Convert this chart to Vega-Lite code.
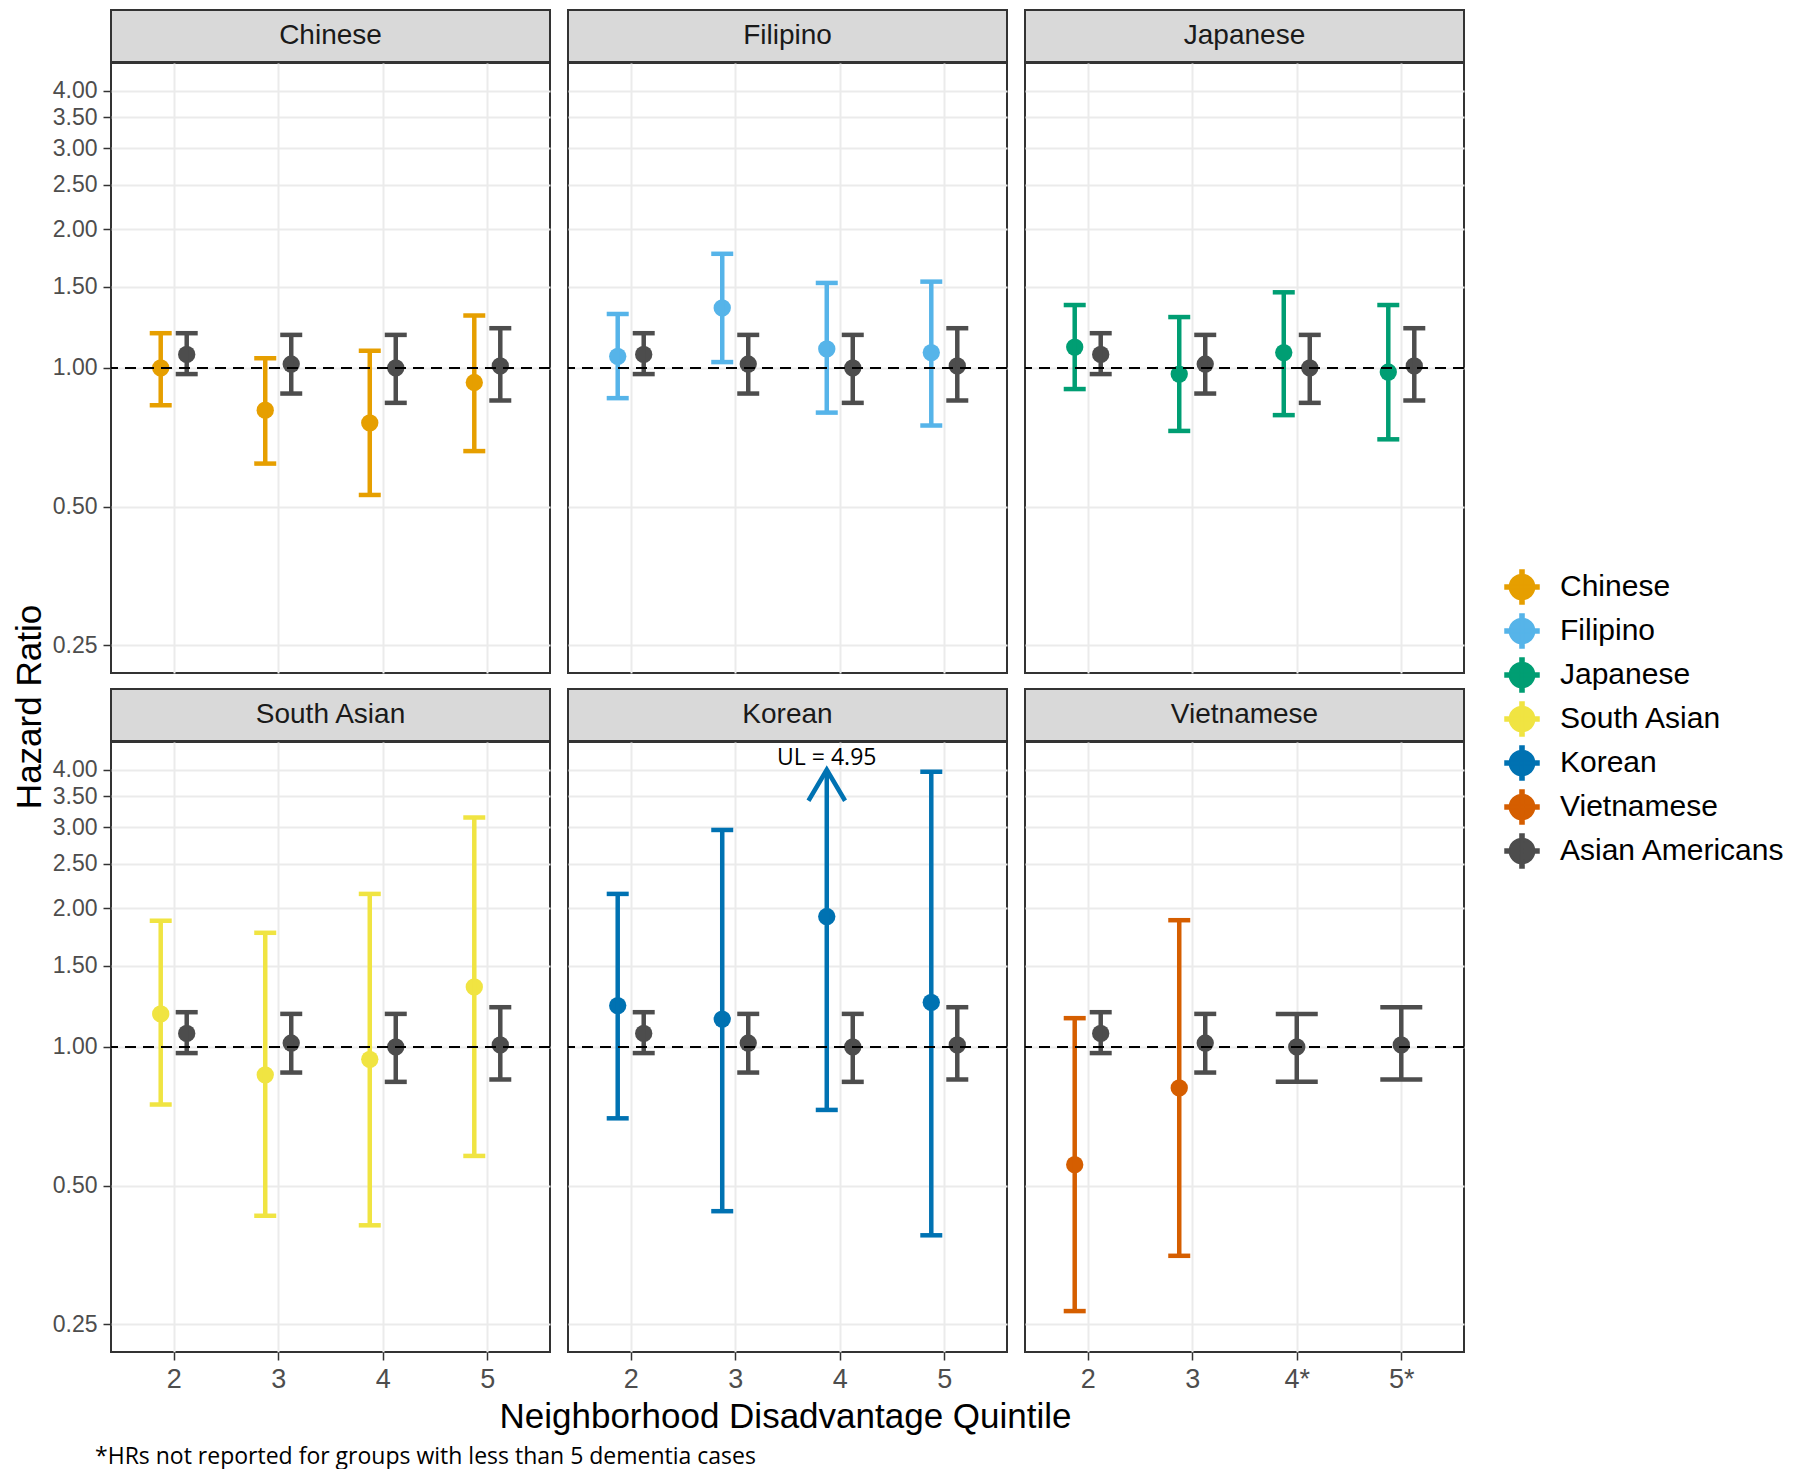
{
"$schema":"https://vega.github.io/schema/vega-lite/v6.json",
"padding":{"left":12,"top":9,"right":0,"bottom":0},
"background":"#FFFFFF",
"title":{"text":"*HRs not reported for groups with less than 5 dementia cases","orient":"bottom","anchor":"start","frame":"bounds","font":"Open Sans","fontSize":23,"fontWeight":"normal","color":"#000000","offset":0,"dx":82},
"datasets":{"hr":[
{"group":"Chinese","q":2,"hr":1.00,"lo":0.83,"hi":1.19},
{"group":"Chinese","q":3,"hr":0.81,"lo":0.62,"hi":1.05},
{"group":"Chinese","q":4,"hr":0.76,"lo":0.53,"hi":1.09},
{"group":"Chinese","q":5,"hr":0.93,"lo":0.66,"hi":1.30},
{"group":"Filipino","q":2,"hr":1.06,"lo":0.86,"hi":1.31},
{"group":"Filipino","q":3,"hr":1.35,"lo":1.03,"hi":1.77},
{"group":"Filipino","q":4,"hr":1.10,"lo":0.80,"hi":1.53},
{"group":"Filipino","q":5,"hr":1.08,"lo":0.75,"hi":1.54},
{"group":"Japanese","q":2,"hr":1.11,"lo":0.90,"hi":1.37},
{"group":"Japanese","q":3,"hr":0.97,"lo":0.73,"hi":1.29},
{"group":"Japanese","q":4,"hr":1.08,"lo":0.79,"hi":1.46},
{"group":"Japanese","q":5,"hr":0.98,"lo":0.70,"hi":1.37},
{"group":"South Asian","q":2,"hr":1.18,"lo":0.75,"hi":1.88},
{"group":"South Asian","q":3,"hr":0.87,"lo":0.43,"hi":1.77},
{"group":"South Asian","q":4,"hr":0.94,"lo":0.41,"hi":2.15},
{"group":"South Asian","q":5,"hr":1.35,"lo":0.58,"hi":3.15},
{"group":"Korean","q":2,"hr":1.23,"lo":0.70,"hi":2.15},
{"group":"Korean","q":3,"hr":1.15,"lo":0.44,"hi":2.96},
{"group":"Korean","q":4,"hr":1.92,"lo":0.73,"hi":4.95,"note":"UL = 4.95"},
{"group":"Korean","q":5,"hr":1.25,"lo":0.39,"hi":3.96},
{"group":"Vietnamese","q":2,"hr":0.555,"lo":0.267,"hi":1.155},
{"group":"Vietnamese","q":3,"hr":0.815,"lo":0.352,"hi":1.885},
{"group":"Asian Americans","q":2,"hr":1.07,"lo":0.97,"hi":1.19},
{"group":"Asian Americans","q":3,"hr":1.02,"lo":0.88,"hi":1.18},
{"group":"Asian Americans","q":4,"hr":1.00,"lo":0.84,"hi":1.18},
{"group":"Asian Americans","q":5,"hr":1.01,"lo":0.85,"hi":1.22}
]},
"hconcat":[
{"width":1,"height":1394,"view":{"stroke":null,"fill":null},"title":{"text":"Hazard Ratio","orient":"left","anchor":"middle","frame":"group","font":"Liberation Sans","fontSize":35,"fontWeight":"normal","color":"#000000","offset":2},"data":{"values":[{}]},"mark":{"type":"text","text":""}},
{"vconcat":[
{"hconcat":[
 {"vconcat":[
  {"width":439,"height":52,"view":{"fill":"#D9D9D9","stroke":"#333333","strokeWidth":2},"data":{"values":[{"panel":"Chinese"}]},"mark":{"type":"text","font":"Liberation Sans","fontSize":28,"color":"#1A1A1A","baseline":"middle","align":"center"},"encoding":{"text":{"field":"panel"}}},
  {"width":439,"height":610,"data":{"name":"hr"},"layer":[
   {"transform":[{"filter":"datum.group == 'Chinese'"}],
    "encoding":{
     "x":{"field":"q","type":"quantitative","title":null,"scale":{"domain":[1.4,5.6],"nice":false,"zero":false},"axis":{"values":[2,3,4,5],"labels":false,"ticks":false,"grid":true}},
     "y":{"field":"hr","type":"quantitative","title":null,"scale":{"type":"log","domain":[0.2176,4.595],"nice":false},"axis":{"values":[0.25,0.5,1,1.5,2,2.5,3,3.5,4],"format":".2f","grid":true}},
     "color":{"field":"group","type":"nominal","scale":{"domain":["Chinese","Filipino","Japanese","South Asian","Korean","Vietnamese","Asian Americans"],"range":["#E69F00","#56B4E9","#009E73","#F0E442","#0072B2","#D55E00","#4D4D4D"]},"legend":{"title":null,"orient":"none","legendX":1454,"legendY":559,"direction":"vertical"}}},
    "layer":[
     {"mark":{"type":"point","filled":true,"size":300,"opacity":1,"xOffset":-13}},
     {"mark":{"type":"rule","strokeWidth":4.5,"opacity":1,"xOffset":-13},"encoding":{"y":{"field":"lo","type":"quantitative","title":null,"scale":{"type":"log","domain":[0.2176,4.595],"nice":false}},"y2":{"field":"hi"}}},
     {"mark":{"type":"tick","orient":"horizontal","size":22,"thickness":4.5,"opacity":1,"xOffset":-13},"encoding":{"y":{"field":"lo","type":"quantitative","title":null,"scale":{"type":"log","domain":[0.2176,4.595],"nice":false}}}},
     {"mark":{"type":"tick","orient":"horizontal","size":22,"thickness":4.5,"opacity":1,"xOffset":-13},"encoding":{"y":{"field":"hi","type":"quantitative","title":null,"scale":{"type":"log","domain":[0.2176,4.595],"nice":false}}}}
    ]},
   {"transform":[{"filter":"datum.group == 'Asian Americans'"}],
    "encoding":{
     "x":{"field":"q","type":"quantitative","title":null,"scale":{"domain":[1.4,5.6],"nice":false,"zero":false},"axis":{"values":[2,3,4,5],"labels":false,"ticks":false,"grid":true}},
     "y":{"field":"hr","type":"quantitative","title":null,"scale":{"type":"log","domain":[0.2176,4.595],"nice":false},"axis":{"values":[0.25,0.5,1,1.5,2,2.5,3,3.5,4],"format":".2f","grid":true}},
     "color":{"field":"group","type":"nominal","scale":{"domain":["Chinese","Filipino","Japanese","South Asian","Korean","Vietnamese","Asian Americans"],"range":["#E69F00","#56B4E9","#009E73","#F0E442","#0072B2","#D55E00","#4D4D4D"]},"legend":{"title":null,"orient":"none","legendX":1454,"legendY":559,"direction":"vertical"}}},
    "layer":[
     {"mark":{"type":"point","filled":true,"size":300,"opacity":1,"xOffset":13}},
     {"mark":{"type":"rule","strokeWidth":4.5,"opacity":1,"xOffset":13},"encoding":{"y":{"field":"lo","type":"quantitative","title":null,"scale":{"type":"log","domain":[0.2176,4.595],"nice":false}},"y2":{"field":"hi"}}},
     {"mark":{"type":"tick","orient":"horizontal","size":22,"thickness":4.5,"opacity":1,"xOffset":13},"encoding":{"y":{"field":"lo","type":"quantitative","title":null,"scale":{"type":"log","domain":[0.2176,4.595],"nice":false}}}},
     {"mark":{"type":"tick","orient":"horizontal","size":22,"thickness":4.5,"opacity":1,"xOffset":13},"encoding":{"y":{"field":"hi","type":"quantitative","title":null,"scale":{"type":"log","domain":[0.2176,4.595],"nice":false}}}}
    ]},
   {"mark":{"type":"rule","strokeDash":[11,7],"strokeWidth":1.8,"color":"#000000"},"encoding":{"y":{"datum":1,"type":"quantitative","scale":{"type":"log","domain":[0.2176,4.595],"nice":false}}}}
  ]}
 ],"spacing":-2},
 {"vconcat":[
  {"width":439,"height":52,"view":{"fill":"#D9D9D9","stroke":"#333333","strokeWidth":2},"data":{"values":[{"panel":"Filipino"}]},"mark":{"type":"text","font":"Liberation Sans","fontSize":28,"color":"#1A1A1A","baseline":"middle","align":"center"},"encoding":{"text":{"field":"panel"}}},
  {"width":439,"height":610,"data":{"name":"hr"},"layer":[
   {"transform":[{"filter":"datum.group == 'Filipino'"}],
    "encoding":{
     "x":{"field":"q","type":"quantitative","title":null,"scale":{"domain":[1.4,5.6],"nice":false,"zero":false},"axis":{"values":[2,3,4,5],"labels":false,"ticks":false,"grid":true}},
     "y":{"field":"hr","type":"quantitative","title":null,"scale":{"type":"log","domain":[0.2176,4.595],"nice":false},"axis":{"values":[0.25,0.5,1,1.5,2,2.5,3,3.5,4],"labels":false,"ticks":false,"grid":true}},
     "color":{"field":"group","type":"nominal","scale":{"domain":["Chinese","Filipino","Japanese","South Asian","Korean","Vietnamese","Asian Americans"],"range":["#E69F00","#56B4E9","#009E73","#F0E442","#0072B2","#D55E00","#4D4D4D"]},"legend":{"title":null,"orient":"none","legendX":1454,"legendY":559,"direction":"vertical"}}},
    "layer":[
     {"mark":{"type":"point","filled":true,"size":300,"opacity":1,"xOffset":-13}},
     {"mark":{"type":"rule","strokeWidth":4.5,"opacity":1,"xOffset":-13},"encoding":{"y":{"field":"lo","type":"quantitative","title":null,"scale":{"type":"log","domain":[0.2176,4.595],"nice":false}},"y2":{"field":"hi"}}},
     {"mark":{"type":"tick","orient":"horizontal","size":22,"thickness":4.5,"opacity":1,"xOffset":-13},"encoding":{"y":{"field":"lo","type":"quantitative","title":null,"scale":{"type":"log","domain":[0.2176,4.595],"nice":false}}}},
     {"mark":{"type":"tick","orient":"horizontal","size":22,"thickness":4.5,"opacity":1,"xOffset":-13},"encoding":{"y":{"field":"hi","type":"quantitative","title":null,"scale":{"type":"log","domain":[0.2176,4.595],"nice":false}}}}
    ]},
   {"transform":[{"filter":"datum.group == 'Asian Americans'"}],
    "encoding":{
     "x":{"field":"q","type":"quantitative","title":null,"scale":{"domain":[1.4,5.6],"nice":false,"zero":false},"axis":{"values":[2,3,4,5],"labels":false,"ticks":false,"grid":true}},
     "y":{"field":"hr","type":"quantitative","title":null,"scale":{"type":"log","domain":[0.2176,4.595],"nice":false},"axis":{"values":[0.25,0.5,1,1.5,2,2.5,3,3.5,4],"labels":false,"ticks":false,"grid":true}},
     "color":{"field":"group","type":"nominal","scale":{"domain":["Chinese","Filipino","Japanese","South Asian","Korean","Vietnamese","Asian Americans"],"range":["#E69F00","#56B4E9","#009E73","#F0E442","#0072B2","#D55E00","#4D4D4D"]},"legend":{"title":null,"orient":"none","legendX":1454,"legendY":559,"direction":"vertical"}}},
    "layer":[
     {"mark":{"type":"point","filled":true,"size":300,"opacity":1,"xOffset":13}},
     {"mark":{"type":"rule","strokeWidth":4.5,"opacity":1,"xOffset":13},"encoding":{"y":{"field":"lo","type":"quantitative","title":null,"scale":{"type":"log","domain":[0.2176,4.595],"nice":false}},"y2":{"field":"hi"}}},
     {"mark":{"type":"tick","orient":"horizontal","size":22,"thickness":4.5,"opacity":1,"xOffset":13},"encoding":{"y":{"field":"lo","type":"quantitative","title":null,"scale":{"type":"log","domain":[0.2176,4.595],"nice":false}}}},
     {"mark":{"type":"tick","orient":"horizontal","size":22,"thickness":4.5,"opacity":1,"xOffset":13},"encoding":{"y":{"field":"hi","type":"quantitative","title":null,"scale":{"type":"log","domain":[0.2176,4.595],"nice":false}}}}
    ]},
   {"mark":{"type":"rule","strokeDash":[11,7],"strokeWidth":1.8,"color":"#000000"},"encoding":{"y":{"datum":1,"type":"quantitative","scale":{"type":"log","domain":[0.2176,4.595],"nice":false}}}}
  ]}
 ],"spacing":-2},
 {"vconcat":[
  {"width":439,"height":52,"view":{"fill":"#D9D9D9","stroke":"#333333","strokeWidth":2},"data":{"values":[{"panel":"Japanese"}]},"mark":{"type":"text","font":"Liberation Sans","fontSize":28,"color":"#1A1A1A","baseline":"middle","align":"center"},"encoding":{"text":{"field":"panel"}}},
  {"width":439,"height":610,"data":{"name":"hr"},"layer":[
   {"transform":[{"filter":"datum.group == 'Japanese'"}],
    "encoding":{
     "x":{"field":"q","type":"quantitative","title":null,"scale":{"domain":[1.4,5.6],"nice":false,"zero":false},"axis":{"values":[2,3,4,5],"labels":false,"ticks":false,"grid":true}},
     "y":{"field":"hr","type":"quantitative","title":null,"scale":{"type":"log","domain":[0.2176,4.595],"nice":false},"axis":{"values":[0.25,0.5,1,1.5,2,2.5,3,3.5,4],"labels":false,"ticks":false,"grid":true}},
     "color":{"field":"group","type":"nominal","scale":{"domain":["Chinese","Filipino","Japanese","South Asian","Korean","Vietnamese","Asian Americans"],"range":["#E69F00","#56B4E9","#009E73","#F0E442","#0072B2","#D55E00","#4D4D4D"]},"legend":{"title":null,"orient":"none","legendX":1454,"legendY":559,"direction":"vertical"}}},
    "layer":[
     {"mark":{"type":"point","filled":true,"size":300,"opacity":1,"xOffset":-13}},
     {"mark":{"type":"rule","strokeWidth":4.5,"opacity":1,"xOffset":-13},"encoding":{"y":{"field":"lo","type":"quantitative","title":null,"scale":{"type":"log","domain":[0.2176,4.595],"nice":false}},"y2":{"field":"hi"}}},
     {"mark":{"type":"tick","orient":"horizontal","size":22,"thickness":4.5,"opacity":1,"xOffset":-13},"encoding":{"y":{"field":"lo","type":"quantitative","title":null,"scale":{"type":"log","domain":[0.2176,4.595],"nice":false}}}},
     {"mark":{"type":"tick","orient":"horizontal","size":22,"thickness":4.5,"opacity":1,"xOffset":-13},"encoding":{"y":{"field":"hi","type":"quantitative","title":null,"scale":{"type":"log","domain":[0.2176,4.595],"nice":false}}}}
    ]},
   {"transform":[{"filter":"datum.group == 'Asian Americans'"}],
    "encoding":{
     "x":{"field":"q","type":"quantitative","title":null,"scale":{"domain":[1.4,5.6],"nice":false,"zero":false},"axis":{"values":[2,3,4,5],"labels":false,"ticks":false,"grid":true}},
     "y":{"field":"hr","type":"quantitative","title":null,"scale":{"type":"log","domain":[0.2176,4.595],"nice":false},"axis":{"values":[0.25,0.5,1,1.5,2,2.5,3,3.5,4],"labels":false,"ticks":false,"grid":true}},
     "color":{"field":"group","type":"nominal","scale":{"domain":["Chinese","Filipino","Japanese","South Asian","Korean","Vietnamese","Asian Americans"],"range":["#E69F00","#56B4E9","#009E73","#F0E442","#0072B2","#D55E00","#4D4D4D"]},"legend":{"title":null,"orient":"none","legendX":1454,"legendY":559,"direction":"vertical"}}},
    "layer":[
     {"mark":{"type":"point","filled":true,"size":300,"opacity":1,"xOffset":13}},
     {"mark":{"type":"rule","strokeWidth":4.5,"opacity":1,"xOffset":13},"encoding":{"y":{"field":"lo","type":"quantitative","title":null,"scale":{"type":"log","domain":[0.2176,4.595],"nice":false}},"y2":{"field":"hi"}}},
     {"mark":{"type":"tick","orient":"horizontal","size":22,"thickness":4.5,"opacity":1,"xOffset":13},"encoding":{"y":{"field":"lo","type":"quantitative","title":null,"scale":{"type":"log","domain":[0.2176,4.595],"nice":false}}}},
     {"mark":{"type":"tick","orient":"horizontal","size":22,"thickness":4.5,"opacity":1,"xOffset":13},"encoding":{"y":{"field":"hi","type":"quantitative","title":null,"scale":{"type":"log","domain":[0.2176,4.595],"nice":false}}}}
    ]},
   {"mark":{"type":"rule","strokeDash":[11,7],"strokeWidth":1.8,"color":"#000000"},"encoding":{"y":{"datum":1,"type":"quantitative","scale":{"type":"log","domain":[0.2176,4.595],"nice":false}}}}
  ]}
 ],"spacing":-2}
],"spacing":14},
{"vconcat":[
{"hconcat":[
 {"vconcat":[
  {"width":439,"height":52,"view":{"fill":"#D9D9D9","stroke":"#333333","strokeWidth":2},"data":{"values":[{"panel":"South Asian"}]},"mark":{"type":"text","font":"Liberation Sans","fontSize":28,"color":"#1A1A1A","baseline":"middle","align":"center"},"encoding":{"text":{"field":"panel"}}},
  {"width":439,"height":610,"data":{"name":"hr"},"layer":[
   {"transform":[{"filter":"datum.group == 'South Asian'"}],
    "encoding":{
     "x":{"field":"q","type":"quantitative","title":null,"scale":{"domain":[1.4,5.6],"nice":false,"zero":false},"axis":{"values":[2,3,4,5],"format":"d","grid":true}},
     "y":{"field":"hr","type":"quantitative","title":null,"scale":{"type":"log","domain":[0.2176,4.595],"nice":false},"axis":{"values":[0.25,0.5,1,1.5,2,2.5,3,3.5,4],"format":".2f","grid":true}},
     "color":{"field":"group","type":"nominal","scale":{"domain":["Chinese","Filipino","Japanese","South Asian","Korean","Vietnamese","Asian Americans"],"range":["#E69F00","#56B4E9","#009E73","#F0E442","#0072B2","#D55E00","#4D4D4D"]},"legend":{"title":null,"orient":"none","legendX":1454,"legendY":559,"direction":"vertical"}}},
    "layer":[
     {"mark":{"type":"point","filled":true,"size":300,"opacity":1,"xOffset":-13}},
     {"mark":{"type":"rule","strokeWidth":4.5,"opacity":1,"xOffset":-13},"encoding":{"y":{"field":"lo","type":"quantitative","title":null,"scale":{"type":"log","domain":[0.2176,4.595],"nice":false}},"y2":{"field":"hi"}}},
     {"mark":{"type":"tick","orient":"horizontal","size":22,"thickness":4.5,"opacity":1,"xOffset":-13},"encoding":{"y":{"field":"lo","type":"quantitative","title":null,"scale":{"type":"log","domain":[0.2176,4.595],"nice":false}}}},
     {"mark":{"type":"tick","orient":"horizontal","size":22,"thickness":4.5,"opacity":1,"xOffset":-13},"encoding":{"y":{"field":"hi","type":"quantitative","title":null,"scale":{"type":"log","domain":[0.2176,4.595],"nice":false}}}}
    ]},
   {"transform":[{"filter":"datum.group == 'Asian Americans'"}],
    "encoding":{
     "x":{"field":"q","type":"quantitative","title":null,"scale":{"domain":[1.4,5.6],"nice":false,"zero":false},"axis":{"values":[2,3,4,5],"format":"d","grid":true}},
     "y":{"field":"hr","type":"quantitative","title":null,"scale":{"type":"log","domain":[0.2176,4.595],"nice":false},"axis":{"values":[0.25,0.5,1,1.5,2,2.5,3,3.5,4],"format":".2f","grid":true}},
     "color":{"field":"group","type":"nominal","scale":{"domain":["Chinese","Filipino","Japanese","South Asian","Korean","Vietnamese","Asian Americans"],"range":["#E69F00","#56B4E9","#009E73","#F0E442","#0072B2","#D55E00","#4D4D4D"]},"legend":{"title":null,"orient":"none","legendX":1454,"legendY":559,"direction":"vertical"}}},
    "layer":[
     {"mark":{"type":"point","filled":true,"size":300,"opacity":1,"xOffset":13}},
     {"mark":{"type":"rule","strokeWidth":4.5,"opacity":1,"xOffset":13},"encoding":{"y":{"field":"lo","type":"quantitative","title":null,"scale":{"type":"log","domain":[0.2176,4.595],"nice":false}},"y2":{"field":"hi"}}},
     {"mark":{"type":"tick","orient":"horizontal","size":22,"thickness":4.5,"opacity":1,"xOffset":13},"encoding":{"y":{"field":"lo","type":"quantitative","title":null,"scale":{"type":"log","domain":[0.2176,4.595],"nice":false}}}},
     {"mark":{"type":"tick","orient":"horizontal","size":22,"thickness":4.5,"opacity":1,"xOffset":13},"encoding":{"y":{"field":"hi","type":"quantitative","title":null,"scale":{"type":"log","domain":[0.2176,4.595],"nice":false}}}}
    ]},
   {"mark":{"type":"rule","strokeDash":[11,7],"strokeWidth":1.8,"color":"#000000"},"encoding":{"y":{"datum":1,"type":"quantitative","scale":{"type":"log","domain":[0.2176,4.595],"nice":false}}}}
  ]}
 ],"spacing":-2},
 {"vconcat":[
  {"width":439,"height":52,"view":{"fill":"#D9D9D9","stroke":"#333333","strokeWidth":2},"data":{"values":[{"panel":"Korean"}]},"mark":{"type":"text","font":"Liberation Sans","fontSize":28,"color":"#1A1A1A","baseline":"middle","align":"center"},"encoding":{"text":{"field":"panel"}}},
  {"width":439,"height":610,"data":{"name":"hr"},"layer":[
   {"transform":[{"filter":"datum.group == 'Korean'"}],
    "encoding":{
     "x":{"field":"q","type":"quantitative","title":null,"scale":{"domain":[1.4,5.6],"nice":false,"zero":false},"axis":{"values":[2,3,4,5],"format":"d","grid":true}},
     "y":{"field":"hr","type":"quantitative","title":null,"scale":{"type":"log","domain":[0.2176,4.595],"nice":false},"axis":{"values":[0.25,0.5,1,1.5,2,2.5,3,3.5,4],"labels":false,"ticks":false,"grid":true}},
     "color":{"field":"group","type":"nominal","scale":{"domain":["Chinese","Filipino","Japanese","South Asian","Korean","Vietnamese","Asian Americans"],"range":["#E69F00","#56B4E9","#009E73","#F0E442","#0072B2","#D55E00","#4D4D4D"]},"legend":{"title":null,"orient":"none","legendX":1454,"legendY":559,"direction":"vertical"}}},
    "layer":[
     {"mark":{"type":"point","filled":true,"size":300,"opacity":1,"xOffset":-13}},
     {"transform":[{"filter":"datum.hi < 4.6"}],"mark":{"type":"rule","strokeWidth":4.5,"opacity":1,"xOffset":-13},"encoding":{"y":{"field":"lo","type":"quantitative","title":null,"scale":{"type":"log","domain":[0.2176,4.595],"nice":false}},"y2":{"field":"hi"}}},
     {"mark":{"type":"tick","orient":"horizontal","size":22,"thickness":4.5,"opacity":1,"xOffset":-13},"encoding":{"y":{"field":"lo","type":"quantitative","title":null,"scale":{"type":"log","domain":[0.2176,4.595],"nice":false}}}},
     {"transform":[{"filter":"datum.hi < 4.6"}],"mark":{"type":"tick","orient":"horizontal","size":22,"thickness":4.5,"opacity":1,"xOffset":-13},"encoding":{"y":{"field":"hi","type":"quantitative","title":null,"scale":{"type":"log","domain":[0.2176,4.595],"nice":false}}}},
     {"transform":[{"filter":"datum.hi >= 4.6"}],"mark":{"type":"rule","strokeWidth":4.5,"opacity":1,"xOffset":-13},"encoding":{"y":{"field":"lo","type":"quantitative","title":null,"scale":{"type":"log","domain":[0.2176,4.595],"nice":false}},"y2":{"datum":4},"color":{"value":"#0072B2"}}},
     {"transform":[{"filter":"datum.hi >= 4.6"}],"mark":{"type":"point","shape":"M-0.59,1L0,0L0.59,1","size":3844,"filled":false,"strokeWidth":4.5,"opacity":1,"xOffset":-13},"encoding":{"y":{"datum":4,"type":"quantitative","scale":{"type":"log","domain":[0.2176,4.595],"nice":false}},"color":{"value":"#0072B2"}}},
     {"transform":[{"filter":"datum.hi >= 4.6"}],"mark":{"type":"text","font":"Open Sans","fontSize":23,"baseline":"alphabetic","align":"center","dy":-5,"xOffset":-13},"encoding":{"y":{"datum":4,"type":"quantitative","scale":{"type":"log","domain":[0.2176,4.595],"nice":false}},"text":{"field":"note"},"color":{"value":"#000000"}}}
    ]},
   {"transform":[{"filter":"datum.group == 'Asian Americans'"}],
    "encoding":{
     "x":{"field":"q","type":"quantitative","title":null,"scale":{"domain":[1.4,5.6],"nice":false,"zero":false},"axis":{"values":[2,3,4,5],"format":"d","grid":true}},
     "y":{"field":"hr","type":"quantitative","title":null,"scale":{"type":"log","domain":[0.2176,4.595],"nice":false},"axis":{"values":[0.25,0.5,1,1.5,2,2.5,3,3.5,4],"labels":false,"ticks":false,"grid":true}},
     "color":{"field":"group","type":"nominal","scale":{"domain":["Chinese","Filipino","Japanese","South Asian","Korean","Vietnamese","Asian Americans"],"range":["#E69F00","#56B4E9","#009E73","#F0E442","#0072B2","#D55E00","#4D4D4D"]},"legend":{"title":null,"orient":"none","legendX":1454,"legendY":559,"direction":"vertical"}}},
    "layer":[
     {"mark":{"type":"point","filled":true,"size":300,"opacity":1,"xOffset":13}},
     {"mark":{"type":"rule","strokeWidth":4.5,"opacity":1,"xOffset":13},"encoding":{"y":{"field":"lo","type":"quantitative","title":null,"scale":{"type":"log","domain":[0.2176,4.595],"nice":false}},"y2":{"field":"hi"}}},
     {"mark":{"type":"tick","orient":"horizontal","size":22,"thickness":4.5,"opacity":1,"xOffset":13},"encoding":{"y":{"field":"lo","type":"quantitative","title":null,"scale":{"type":"log","domain":[0.2176,4.595],"nice":false}}}},
     {"mark":{"type":"tick","orient":"horizontal","size":22,"thickness":4.5,"opacity":1,"xOffset":13},"encoding":{"y":{"field":"hi","type":"quantitative","title":null,"scale":{"type":"log","domain":[0.2176,4.595],"nice":false}}}}
    ]},
   {"mark":{"type":"rule","strokeDash":[11,7],"strokeWidth":1.8,"color":"#000000"},"encoding":{"y":{"datum":1,"type":"quantitative","scale":{"type":"log","domain":[0.2176,4.595],"nice":false}}}}
  ]}
 ],"spacing":-2},
 {"vconcat":[
  {"width":439,"height":52,"view":{"fill":"#D9D9D9","stroke":"#333333","strokeWidth":2},"data":{"values":[{"panel":"Vietnamese"}]},"mark":{"type":"text","font":"Liberation Sans","fontSize":28,"color":"#1A1A1A","baseline":"middle","align":"center"},"encoding":{"text":{"field":"panel"}}},
  {"width":439,"height":610,"data":{"name":"hr"},"layer":[
   {"transform":[{"filter":"datum.group == 'Vietnamese'"}],
    "encoding":{
     "x":{"field":"q","type":"quantitative","title":null,"scale":{"domain":[1.4,5.6],"nice":false,"zero":false},"axis":{"values":[2,3,4,5],"format":"d","grid":true,"labelExpr":"datum.value >= 4 ? datum.label + '*' : datum.label"}},
     "y":{"field":"hr","type":"quantitative","title":null,"scale":{"type":"log","domain":[0.2176,4.595],"nice":false},"axis":{"values":[0.25,0.5,1,1.5,2,2.5,3,3.5,4],"labels":false,"ticks":false,"grid":true}},
     "color":{"field":"group","type":"nominal","scale":{"domain":["Chinese","Filipino","Japanese","South Asian","Korean","Vietnamese","Asian Americans"],"range":["#E69F00","#56B4E9","#009E73","#F0E442","#0072B2","#D55E00","#4D4D4D"]},"legend":{"title":null,"orient":"none","legendX":1454,"legendY":559,"direction":"vertical"}}},
    "layer":[
     {"mark":{"type":"point","filled":true,"size":300,"opacity":1,"xOffset":-13}},
     {"mark":{"type":"rule","strokeWidth":4.5,"opacity":1,"xOffset":-13},"encoding":{"y":{"field":"lo","type":"quantitative","title":null,"scale":{"type":"log","domain":[0.2176,4.595],"nice":false}},"y2":{"field":"hi"}}},
     {"mark":{"type":"tick","orient":"horizontal","size":22,"thickness":4.5,"opacity":1,"xOffset":-13},"encoding":{"y":{"field":"lo","type":"quantitative","title":null,"scale":{"type":"log","domain":[0.2176,4.595],"nice":false}}}},
     {"mark":{"type":"tick","orient":"horizontal","size":22,"thickness":4.5,"opacity":1,"xOffset":-13},"encoding":{"y":{"field":"hi","type":"quantitative","title":null,"scale":{"type":"log","domain":[0.2176,4.595],"nice":false}}}}
    ]},
   {"transform":[{"filter":"datum.group == 'Asian Americans' && datum.q <= 3"}],
    "encoding":{
     "x":{"field":"q","type":"quantitative","title":null,"scale":{"domain":[1.4,5.6],"nice":false,"zero":false},"axis":{"values":[2,3,4,5],"format":"d","grid":true,"labelExpr":"datum.value >= 4 ? datum.label + '*' : datum.label"}},
     "y":{"field":"hr","type":"quantitative","title":null,"scale":{"type":"log","domain":[0.2176,4.595],"nice":false},"axis":{"values":[0.25,0.5,1,1.5,2,2.5,3,3.5,4],"labels":false,"ticks":false,"grid":true}},
     "color":{"field":"group","type":"nominal","scale":{"domain":["Chinese","Filipino","Japanese","South Asian","Korean","Vietnamese","Asian Americans"],"range":["#E69F00","#56B4E9","#009E73","#F0E442","#0072B2","#D55E00","#4D4D4D"]},"legend":{"title":null,"orient":"none","legendX":1454,"legendY":559,"direction":"vertical"}}},
    "layer":[
     {"mark":{"type":"point","filled":true,"size":300,"opacity":1,"xOffset":13}},
     {"mark":{"type":"rule","strokeWidth":4.5,"opacity":1,"xOffset":13},"encoding":{"y":{"field":"lo","type":"quantitative","title":null,"scale":{"type":"log","domain":[0.2176,4.595],"nice":false}},"y2":{"field":"hi"}}},
     {"mark":{"type":"tick","orient":"horizontal","size":22,"thickness":4.5,"opacity":1,"xOffset":13},"encoding":{"y":{"field":"lo","type":"quantitative","title":null,"scale":{"type":"log","domain":[0.2176,4.595],"nice":false}}}},
     {"mark":{"type":"tick","orient":"horizontal","size":22,"thickness":4.5,"opacity":1,"xOffset":13},"encoding":{"y":{"field":"hi","type":"quantitative","title":null,"scale":{"type":"log","domain":[0.2176,4.595],"nice":false}}}}
    ]},
   {"transform":[{"filter":"datum.group == 'Asian Americans' && datum.q >= 4"}],
    "encoding":{
     "x":{"field":"q","type":"quantitative","title":null,"scale":{"domain":[1.4,5.6],"nice":false,"zero":false},"axis":{"values":[2,3,4,5],"format":"d","grid":true,"labelExpr":"datum.value >= 4 ? datum.label + '*' : datum.label"}},
     "y":{"field":"hr","type":"quantitative","title":null,"scale":{"type":"log","domain":[0.2176,4.595],"nice":false},"axis":{"values":[0.25,0.5,1,1.5,2,2.5,3,3.5,4],"labels":false,"ticks":false,"grid":true}},
     "color":{"field":"group","type":"nominal","scale":{"domain":["Chinese","Filipino","Japanese","South Asian","Korean","Vietnamese","Asian Americans"],"range":["#E69F00","#56B4E9","#009E73","#F0E442","#0072B2","#D55E00","#4D4D4D"]},"legend":{"title":null,"orient":"none","legendX":1454,"legendY":559,"direction":"vertical"}}},
    "layer":[
     {"mark":{"type":"point","filled":true,"size":300,"opacity":1}},
     {"mark":{"type":"rule","strokeWidth":4.5,"opacity":1},"encoding":{"y":{"field":"lo","type":"quantitative","title":null,"scale":{"type":"log","domain":[0.2176,4.595],"nice":false}},"y2":{"field":"hi"}}},
     {"mark":{"type":"tick","orient":"horizontal","size":42,"thickness":4.5,"opacity":1},"encoding":{"y":{"field":"lo","type":"quantitative","title":null,"scale":{"type":"log","domain":[0.2176,4.595],"nice":false}}}},
     {"mark":{"type":"tick","orient":"horizontal","size":42,"thickness":4.5,"opacity":1},"encoding":{"y":{"field":"hi","type":"quantitative","title":null,"scale":{"type":"log","domain":[0.2176,4.595],"nice":false}}}}
    ]},
   {"mark":{"type":"rule","strokeDash":[11,7],"strokeWidth":1.8,"color":"#000000"},"encoding":{"y":{"datum":1,"type":"quantitative","scale":{"type":"log","domain":[0.2176,4.595],"nice":false}}}}
  ]}
 ],"spacing":-2}
],"spacing":14},
{"width":1349,"height":1,"view":{"stroke":null,"fill":null},"title":{"text":"Neighborhood Disadvantage Quintile","orient":"top","anchor":"middle","frame":"group","font":"Liberation Sans","fontSize":35,"fontWeight":"normal","color":"#000000","offset":0},"data":{"values":[{}]},"mark":{"type":"text","text":""}}
],"spacing":6}
],"spacing":14}
],
"spacing":0,
"config":{
 "view":{"stroke":"#333333","strokeWidth":2,"fill":"#FFFFFF"},
 "axis":{"gridColor":"#EBEBEB","gridWidth":2,"domain":false,"tickColor":"#333333","tickWidth":1.5,"tickSize":8,"labelColor":"#4D4D4D","labelFont":"Liberation Sans","titleFont":"Liberation Sans","titleFontWeight":"normal","titleColor":"#000000","labelOverlap":false,"labelBound":false,"labelFlush":false},
 "axisY":{"labelFontSize":23,"labelPadding":6},
 "axisX":{"labelFontSize":27,"labelPadding":6},
 "legend":{"symbolType":"M-0.74,0A0.74,0.74 0 1,1 0.74,0A0.74,0.74 0 1,1 -0.74,0ZM-0.12,-1L0.12,-1L0.12,1L-0.12,1ZM-1,-0.12L1,-0.12L1,0.12L-1,0.12Z","symbolSize":1156,"symbolOpacity":1,"labelFont":"Liberation Sans","labelFontSize":30,"labelColor":"#000000","labelOffset":20,"labelLimit":400,"rowPadding":4,"padding":0}
}
}
